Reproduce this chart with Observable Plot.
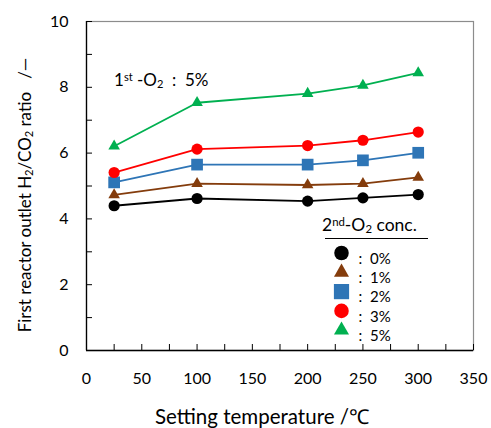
<!DOCTYPE html>
<html>
<head>
<meta charset="utf-8">
<script src="https://cdn.jsdelivr.net/npm/d3@7"></script>
<script src="https://cdn.jsdelivr.net/npm/@observablehq/plot@0.6"></script>
<style>
  body { margin: 0; background: #fff; }
  #chart { width: 491px; height: 428px; }
  #chart svg text { white-space: pre; }
</style>
</head>
<body>
<div id="chart"></div>
<script>
// Setting temperature (°C) and first-reactor outlet H2/CO2 ratio for each 2nd-O2 concentration
const temps = [25, 100, 200, 250, 300];
const o2Levels = ["0%", "1%", "2%", "3%", "5%"];
const ratio0 = [4.40, 4.62, 4.54, 4.64, 4.74];
const ratio1 = [4.73, 5.07, 5.03, 5.07, 5.26];
const ratio2 = [5.11, 5.65, 5.65, 5.78, 6.01];
const ratio3 = [5.41, 6.12, 6.23, 6.39, 6.64];
const ratio5 = [6.21, 7.53, 7.81, 8.06, 8.44];

const xTicks = [0, 50, 100, 150, 200, 250, 300, 350];
const yTicks = [0, 2, 4, 6, 8, 10];
const xMinorTicks = d3.range(0, 351, 25);
const yMinorTicks = d3.range(0, 11, 1);

const seriesColors = ["#000000", "#843c0c", "#2e75b6", "#ff0000", "#00b050"];
const seriesSymbols = ["circle", "triangle", "square", "circle", "triangle"];
const seriesR = [5.6, 4.3, 6.6, 5.6, 4.3];

const W = 491, H = 428;
const M = {left: 86, right: 18, top: 21, bottom: 78};
const innerW = W - M.left - M.right;
const innerH = H - M.top - M.bottom;
const font = "Lato, 'Open Sans', sans-serif";

const ratios = [ratio0, ratio1, ratio2, ratio3, ratio5];
const series = ratios.map((vals, i) => temps.map((t, j) => ({temp: t, ratio: vals[j], level: o2Levels[i]})));

const seriesMarks = series.flatMap((rows, i) => [
  Plot.line(rows, {x: "temp", y: "ratio", stroke: seriesColors[i], strokeWidth: 1.8}),
  Plot.dot(rows, {x: "temp", y: "ratio", symbol: seriesSymbols[i], fill: seriesColors[i], r: seriesR[i], stroke: "none"})
]);

// legend rows inside the plot frame
const legendX = 341 - M.left;
const legendY0 = 252.5 - M.top;
const legendStep = 19.3;
const legendMarks = o2Levels.flatMap((lvl, i) => [
  Plot.dot([lvl], {frameAnchor: "top-left", dx: legendX, dy: legendY0 + i * legendStep,
    symbol: seriesSymbols[i], fill: seriesColors[i], r: seriesR[i] * 1.3, stroke: "none"}),
  Plot.text([lvl], {frameAnchor: "top-left", dx: 358 - M.left, dy: legendY0 + i * legendStep,
    text: d => ":  " + d, textAnchor: "start", fontSize: 15, fill: "#000"})
]);

const chart = Plot.plot({
  width: W, height: H,
  marginLeft: M.left, marginRight: M.right, marginTop: M.top, marginBottom: M.bottom,
  style: {fontFamily: font, fontSize: "15px", color: "#000", background: "#fff"},
  x: {domain: [0, 350]},
  y: {domain: [0, 10]},
  marks: [
    Plot.frame({stroke: "#8c8c8c", strokeWidth: 1.2}),
    Plot.ruleX([0], {stroke: "#000", strokeWidth: 1.3}),
    Plot.ruleY([0], {stroke: "#000", strokeWidth: 1.3}),
    Plot.tickY(yMinorTicks, {y: d => d, insetRight: innerW - 6, stroke: "#000"}),
    Plot.tickX(xMinorTicks, {x: d => d, insetTop: innerH - 6, stroke: "#000"}),
    Plot.axisY({ticks: yTicks, tickSize: 0, tickPadding: 18, label: null, fontSize: 16}),
    Plot.axisX({ticks: xTicks, tickSize: 0, tickPadding: 22, label: null, fontSize: 16}),
    ...seriesMarks,
    ...legendMarks
  ]
});

document.getElementById("chart").appendChild(chart);

// labels with sub/superscripts
const svg = d3.select(chart);
function richText(parts, attrs) {
  const t = svg.append("text").attr("font-family", font).attr("fill", "#000");
  Object.entries(attrs).forEach(([k, v]) => t.attr(k, v));
  parts.forEach(([s, mode]) => {
    const ts = t.append("tspan").text(s);
    if (mode === "sub") ts.attr("font-size", "0.65em").attr("baseline-shift", "-22%");
    if (mode === "sup") ts.attr("font-size", "0.65em").attr("baseline-shift", "45%");
  });
  return t;
}

richText([["First reactor outlet H"], ["2", "sub"], ["/CO"], ["2", "sub"], [" ratio   /\u2014"]],
  {"font-size": 17, "text-anchor": "middle", transform: "translate(31,195) rotate(-90)"});

richText([["Setting temperature /\u2103"]],
  {"font-size": 20.5, "text-anchor": "middle", x: 262, y: 424});

richText([["1"], ["st", "sup"], [" -O"], ["2", "sub"], ["  :  5%"]],
  {"font-size": 17, "text-anchor": "start", x: 114, y: 86});

richText([["2"], ["nd", "sup"], ["-O"], ["2", "sub"], [" conc."]],
  {"font-size": 17.5, "text-anchor": "start", x: 322, y: 231});

svg.append("line").attr("x1", 325).attr("x2", 428).attr("y1", 238.5).attr("y2", 238.5)
  .attr("stroke", "#000").attr("stroke-width", 1.2);
</script>
</body>
</html>
